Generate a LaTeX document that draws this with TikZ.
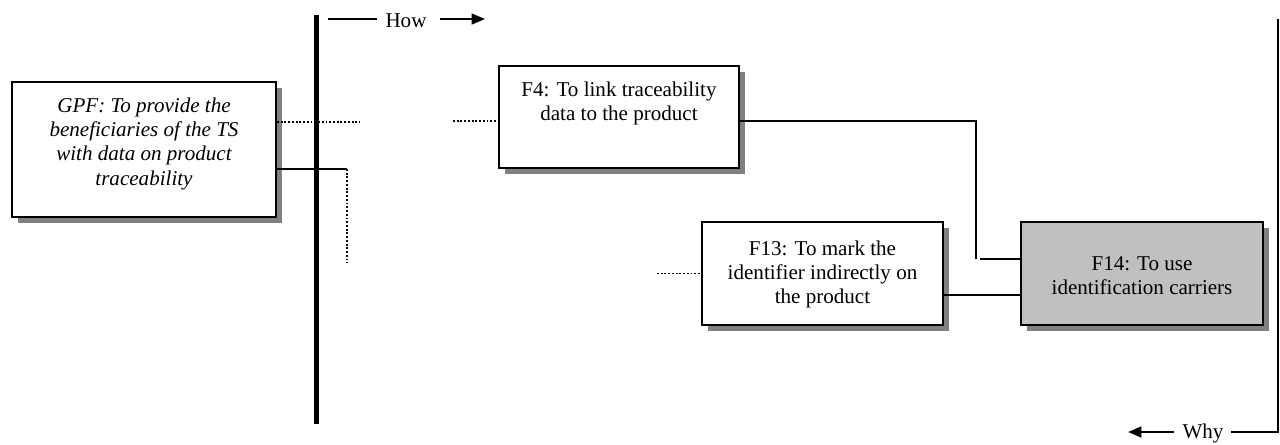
\documentclass[tikz,border=0pt]{standalone}
\usepackage{fontspec}
\setmainfont{Liberation Serif}
\usetikzlibrary{shadows,arrows.meta}
\definecolor{shadowgray}{HTML}{808080}
\definecolor{boxgray}{HTML}{C0C0C0}
\begin{document}
\begin{tikzpicture}[x=0.75pt,y=-0.75pt,
  fbox/.style={rectangle, draw=black, line width=1.5pt, fill=white, inner sep=0pt,
    drop shadow={shadow xshift=4.5pt, shadow yshift=-4.5pt, fill=shadowgray, opacity=1}},
  txt/.style={align=center, inner sep=0pt, anchor=north,
    font=\fontsize{15.8}{18.2}\selectfont},
  conn/.style={line width=0.9pt},
  dotline/.style={line width=1.3pt, dash pattern=on 1.4pt off 1.4pt},
  axisline/.style={line width=1pt},
  axisarrow/.style={line width=1.8pt, -{Triangle[length=10pt,width=8pt]}},
  lbl/.style={anchor=base, inner sep=0pt, font=\fontsize{15.8}{18.2}\selectfont}]
\useasboundingbox (0,0) rectangle (1280,444);

% thick divider
\coordinate (bartop) at (316,15);
\coordinate (barbot) at (316,424);
\draw[line width=3.75pt] (bartop) -- (barbot);

% boxes
\node[fbox, minimum width=198pt, minimum height=101.25pt] (gpf) at (144,149.5) {};
\node[txt, font=\fontsize{15.8}{18.2}\selectfont\itshape] (gpft) at (144,92)
  {\rule{0pt}{15pt}GPF: To provide the\\beneficiaries of the TS\\with data on product\\traceability};

\node[fbox, minimum width=180pt, minimum height=76.5pt] (f4) at (619,117) {};
\node[txt] (f4t) at (619,76)
  {\rule{0pt}{15pt}F4: To link traceability\\data to the product};

\node[fbox, minimum width=180.75pt, minimum height=77.25pt] (f13) at (822.5,273.5) {};
\node[txt] (f13t) at (822.5,235)
  {\rule{0pt}{15pt}F13: To mark the\\identifier indirectly on\\the product};

\node[fbox, fill=boxgray, minimum width=181.5pt, minimum height=77.25pt] (f14) at (1142,273.5) {};
\node[txt] (f14t) at (1142,250)
  {\rule{0pt}{15pt}F14: To use\\identification carriers};

% connectors from GPF
\coordinate (d1) at (360,122);
\draw[dotline] (gpf.east |- d1) -- (d1);
\coordinate (s1) at (347,169);
\coordinate (s2) at (347,263);
\draw[conn] (gpf.east |- s1) -- (s1);
\draw[dotline] (s1) -- (s2);

% F4
\coordinate (d2) at (453,121);
\draw[dotline] (d2) -- (f4.west |- d2);
\coordinate (j1) at (976,259);
\coordinate (j2) at (980,259);
\draw[conn] (f4.east |- d2) -| (j1);
\draw[conn] (j2) -- (f14.west |- j2);

% F13
\coordinate (d3) at (657,273.5);
\draw[dotline] (d3) -- (f13.west |- d3);
\coordinate (j3) at (950,295);
\draw[conn] (f13.east |- j3) -- (f14.west |- j3);

% How
\node[lbl] (how) at (406,27) {How};
\coordinate (h1) at (328,19);
\coordinate (h2) at (377,19);
\draw[axisline] (h1) -- (h2);
\coordinate (h3) at (440,19);
\coordinate (h4) at (485,19);
\draw[axisarrow] (h3) -- (h4);

% Why
\node[lbl] (why) at (1203,438) {Why};
\coordinate (w0) at (1278,19);
\coordinate (w1) at (1278,432);
\coordinate (w2) at (1231,432);
\draw[axisline] (w0) -- (w1) -- (w2);
\coordinate (w3) at (1174,432);
\coordinate (w4) at (1128,432);
\draw[axisarrow] (w3) -- (w4);
\end{tikzpicture}
\end{document}
